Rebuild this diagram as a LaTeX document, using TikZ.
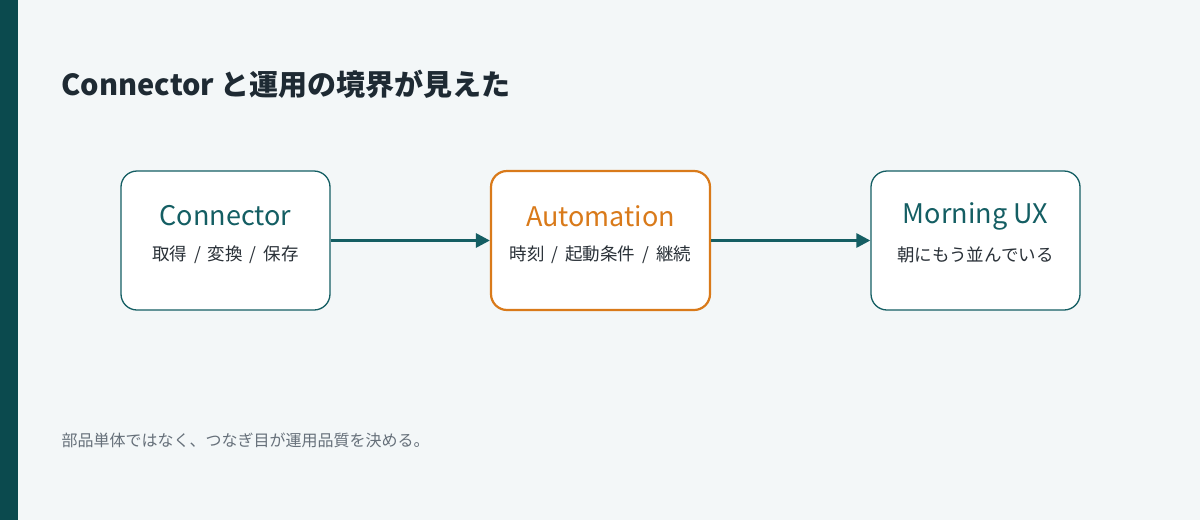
\documentclass[tikz,border=0pt]{standalone}
\usepackage{fontspec}
\setmainfont{Noto Sans CJK JP}
\usetikzlibrary{arrows.meta}
\definecolor{bg}{HTML}{F3F7F8}
\definecolor{bar}{HTML}{0B4A4E}
\definecolor{teal}{HTML}{145E63}
\definecolor{org}{HTML}{D97A1A}
\definecolor{ink}{HTML}{1E2A33}
\definecolor{sub}{HTML}{2A3138}
\definecolor{foot}{HTML}{66707A}
\begin{document}
\begin{tikzpicture}[x=1pt,y=-1pt,
  box/.style={draw=teal,line width=1.3pt,fill=white,rounded corners=16pt,minimum width=209pt,minimum height=139pt},
  hl/.style={box,draw=org,line width=2.2pt,minimum width=219pt},
  ttl/.style={font=\fontsize{27}{32}\selectfont,text=teal},
  sb/.style={font=\fontsize{17.5}{21}\selectfont,text=sub},
  arr/.style={draw=teal,line width=3pt,-{Triangle[length=14pt,width=14pt]}}]
\fill[bg] (0,0) rectangle (1200,520);
\fill[bar] (0,0) rectangle (18,520);
\useasboundingbox (0,0) rectangle (1200,520);
\node[anchor=west,font=\fontsize{29}{34}\selectfont\bfseries,text=ink] (title) at (58,84) {Connector と運用の境界が見えた};
\node[box] (a) at (225.5,240.5) {};
\node[hl] (b) at (600.5,240.5) {};
\node[box] (c) at (975.5,240.5) {};
\node[ttl] (at) at (225.5,216) {Connector};
\node[sb] (as) at (225.5,255) {取得\ \,/\ \,変換\ \,/\ \,保存};
\node[ttl,text=org] (bt) at (600.5,216) {Automation};
\node[sb] (bs) at (600.5,255) {時刻\ \,/\ \,起動条件\ \,/\ \,継続};
\node[ttl] (ct) at (975.5,216) {Morning UX};
\node[sb] (cs) at (975.5,255) {朝にもう並んでいる};
\draw[arr] (a.east) -- (b.west);
\draw[arr] (b.east) -- (c.west);
\node[anchor=west,font=\fontsize{16}{19}\selectfont,text=foot] (f) at (58,440) {部品単体ではなく、つなぎ目が運用品質を決める。};
\end{tikzpicture}
\end{document}
